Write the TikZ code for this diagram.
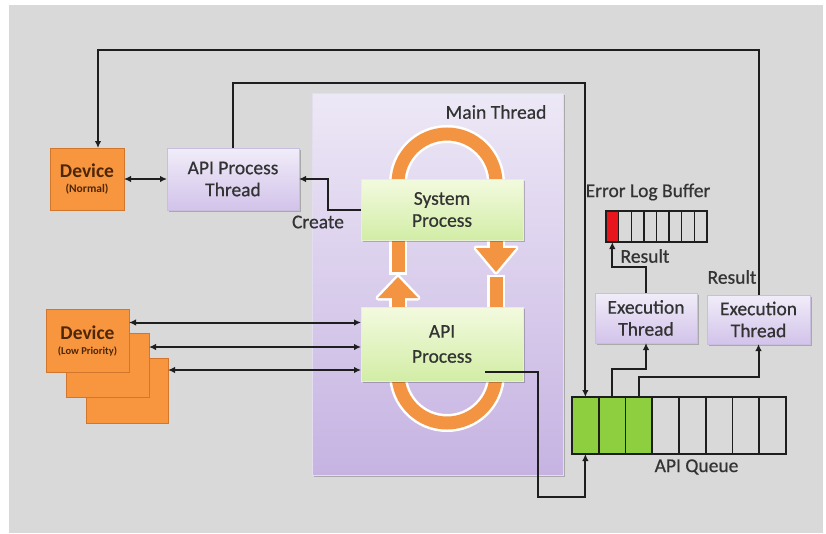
\documentclass[tikz,border=0pt]{standalone}
\usepackage{fontspec}
\setmainfont{Carlito}
\newfontfamily\labelfont{Carlito}[FakeBold=0.6]
\usetikzlibrary{arrows.meta,shadows}

\definecolor{bggrey}{HTML}{D9D9D9}
\definecolor{inktext}{HTML}{333333}
\definecolor{lavtop}{HTML}{F1EDF9}
\definecolor{lavbot}{HTML}{D2C3EA}
\definecolor{lavedge}{HTML}{C9BEDD}
\definecolor{paneltop}{HTML}{EDE8F6}
\definecolor{panelbot}{HTML}{C6B3E2}
\definecolor{paneledge}{HTML}{E4DDEF}
\definecolor{grntop}{HTML}{F3FADF}
\definecolor{grnbot}{HTML}{D2EDA6}
\definecolor{grnedge}{HTML}{E6F2CF}
\definecolor{devfill}{HTML}{F7963F}
\definecolor{devedge}{HTML}{D2762C}
\definecolor{devtext}{HTML}{4E2608}
\definecolor{loopor}{HTML}{F39442}
\definecolor{qgreen}{HTML}{8DCF3F}
\definecolor{errred}{HTML}{E8151C}
\definecolor{wirec}{HTML}{1E1E1E}

\begin{document}
\begin{tikzpicture}[x=1pt,y=-1pt,
  txt/.style={text=inktext, font=\labelfont\fontsize{19.5}{22}\selectfont, align=center},
  softshadow/.style={drop shadow={shadow xshift=1.5pt, shadow yshift=-1.5pt, opacity=0.22, fill=black}},
  lavbox/.style={draw=lavedge, line width=0.8pt, top color=lavtop, bottom color=lavbot,
    inner sep=0pt, outer sep=0pt, softshadow, txt},
  grnbox/.style={draw=grnedge, line width=0.8pt, top color=grntop, bottom color=grnbot,
    inner sep=0pt, outer sep=0pt, softshadow, txt},
  panel/.style={draw=paneledge, line width=1pt, top color=paneltop, bottom color=panelbot,
    inner sep=0pt, outer sep=0pt, softshadow},
  devbox/.style={draw=devedge, fill=devfill, line width=0.8pt, inner sep=0pt, outer sep=0pt,
    text=devtext, align=center},
  wire/.style={draw=wirec, line width=2pt},
  arr/.style={wire, -{Latex[length=7pt,width=6.5pt]}},
  dbl/.style={wire, {Latex[length=7pt,width=6.5pt]}-{Latex[length=7pt,width=6.5pt]}},
  qcell/.style={draw=wirec, line width=1.8pt, minimum width=26.75pt, minimum height=57pt,
    inner sep=0pt, outer sep=0pt},
  ecell/.style={draw=wirec, line width=1.4pt, minimum width=12.6pt, minimum height=31pt,
    inner sep=0pt, outer sep=0pt},
  halo/.style={draw=white, line width=18pt},
  band/.style={draw=loopor, line width=13pt}
]
\useasboundingbox (0,0) rectangle (826,533);
\fill[white] (0,0) rectangle (826,533);
\fill[bggrey] (9,5) rectangle (823,533);

% main thread panel
\node[panel, minimum width=251pt, minimum height=382pt] (main) at (437.5,284) {};
\node[txt] (mainlbl) at (496,112) {Main Thread};

% orange process loop: white outline first, then the band
\draw[halo] (447,183) circle[radius=49pt];
\draw[halo] (447,374) circle[radius=49pt];
\draw[halo] (398,183) -- (398,274.5);
\draw[halo] (496,183) -- (496,250);
\draw[halo] (496,274.5) -- (496,307);
\draw[halo] (398,296) -- (398,310);
\filldraw[draw=white, fill=white, line width=5pt, line join=round]
  (476,248) -- (516,248) -- (496,272) -- cycle;
\filldraw[draw=white, fill=white, line width=5pt, line join=round]
  (378,298) -- (418,298) -- (398,277) -- cycle;
\draw[band] (447,183) circle[radius=49pt];
\draw[band] (447,374) circle[radius=49pt];
\draw[band] (398,183) -- (398,272);
\draw[band] (496,183) -- (496,249);
\draw[band] (496,277) -- (496,307);
\draw[band] (398,297) -- (398,310);
\fill[loopor] (476,248) -- (516,248) -- (496,272) -- cycle;
\fill[loopor] (378,298) -- (418,298) -- (398,277) -- cycle;

% process boxes
\node[grnbox, minimum width=162pt, minimum height=61pt] (sys) at (442,209.5) {System\\Process};
\node[grnbox, minimum width=162pt, minimum height=74pt, font=\labelfont\fontsize{19.5}{25}\selectfont] (api) at (442,344) {API\\Process};

% devices
\node[devbox, minimum width=74pt, minimum height=62pt] (devn) at (87,179)
  {\fontsize{19.5}{20}\selectfont\bfseries Device\\[3pt]\fontsize{11.5}{12}\selectfont\bfseries (Normal)};
\node[devbox, minimum width=82pt, minimum height=65pt] (lp3) at (127,390.5) {};
\node[devbox, minimum width=83pt, minimum height=64pt] (lp2) at (107.5,365) {};
\node[devbox, minimum width=83pt, minimum height=63pt] (lp1) at (87.5,340.5)
  {\fontsize{19.5}{20}\selectfont\bfseries Device\\[3pt]\fontsize{10.5}{11}\selectfont\bfseries (Low Priority)};

% threads
\node[lavbox, minimum width=132pt, minimum height=62pt] (apt) at (233,179) {API Process\\Thread};
\node[lavbox, minimum width=102pt, minimum height=50pt] (exec1) at (646,318) {Execution\\Thread};
\node[lavbox, minimum width=103pt, minimum height=49pt] (exec2) at (758.5,319.5) {Execution\\Thread};

% API queue
\foreach \i in {1,...,8} {
  \node[qcell] (q\i) at ({572+26.75*(\i-0.5)},425.5) {};
}
\foreach \i in {1,2,3} {
  \node[qcell, fill=qgreen] at (q\i) {};
}
\node[txt] (qlbl) at (696.5,467) {API Queue};

% error log buffer
\foreach \i in {1,...,8} {
  \node[ecell] (e\i) at ({606+12.6*(\i-0.5)},226.5) {};
}
\node[ecell, fill=errred] at (e1) {};
\node[txt] (elbl) at (648,192) {Error Log Buffer};

% labels
\node[txt] (create) at (318,222) {Create};
\node[txt] (res1) at (645,256) {Result};
\node[txt] (res2) at (732,277) {Result};

% connectors
\draw[dbl] (devn.east) -- (apt.west);
\draw[arr] (sys.west) -- ++(-33,0) |- (apt.east);
\coordinate (ret) at (98,50);
\draw[arr] (exec2.north) |- (ret) -- (ret |- devn.north);
\draw[arr] (apt.north) -- ++(0,-65) -| (q1.north);
\draw[dbl] ([yshift=18pt]lp1.east) -- ([yshift=18pt]lp1.east -| api.west);
\draw[dbl] ([yshift=18pt]lp2.east) -- ([yshift=18pt]lp2.east -| api.west);
\draw[dbl] ([yshift=20.5pt]lp3.east) -- ([yshift=20.5pt]lp3.east -| api.west);
\coordinate (apiout) at (485,372);
\draw[arr] (apiout) -- ++(53,0) |- ([yshift=-43pt]q1.south) -- (q1.south);
\draw[arr] (exec1.north) -- ++(0,-26) -| (e1.south);
\draw[arr] (q2.north) -- ++(0,-28) -| (exec1.south);
\draw[arr] (q3.north) -- ++(0,-20) -| (exec2.south);
\end{tikzpicture}
\end{document}
